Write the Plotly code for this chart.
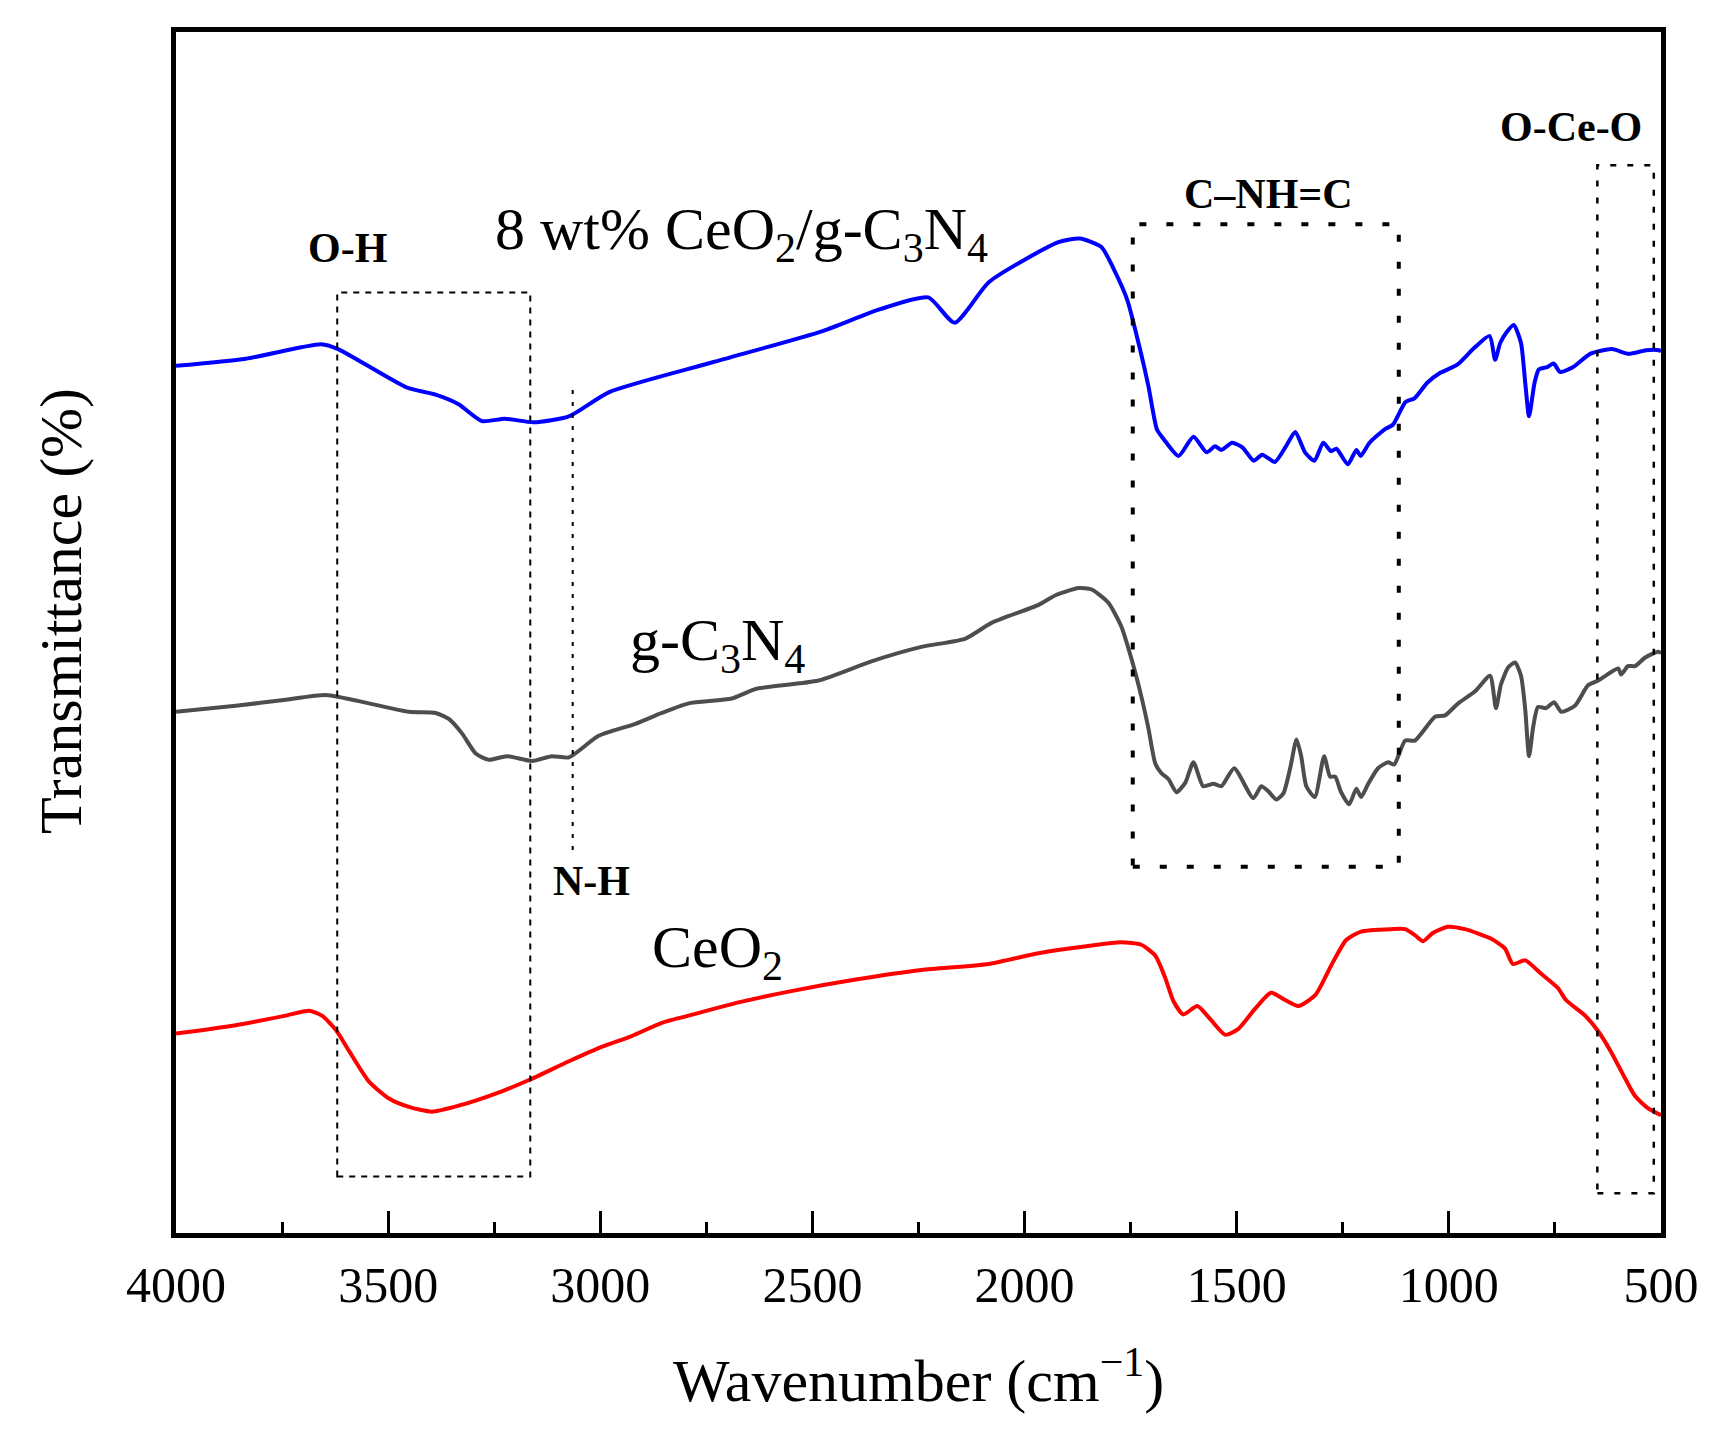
import plotly.graph_objects as go

# ---------------- data ----------------
composite_x = [4000, 3835, 3658, 3618, 3456, 3388, 3334, 3279, 3225, 3157, 3074, 2980, 2735, 2476,
               2342, 2227, 2165, 2083, 1920, 1870, 1819, 1789, 1758, 1728, 1708, 1688, 1672, 1637,
               1602, 1571, 1551, 1536, 1511, 1486, 1460, 1440, 1410, 1384, 1362, 1339, 1317, 1296,
               1278, 1265, 1238, 1218, 1208, 1187, 1152, 1132, 1102, 1081, 1051, 1021, 980, 940,
               904, 891, 879, 864, 847, 830, 820, 811, 798, 788, 768, 753, 738, 707, 667, 616,
               576, 535, 505, 500]
composite_y = [72.2, 72.8, 74.0, 73.6, 70.4, 69.8, 69.0, 67.6, 67.8, 67.5, 68.0, 70.0, 72.5, 75.1,
               76.9, 77.9, 75.8, 79.2, 82.5, 82.8, 82.1, 80.2, 77.7, 73.6, 70.5, 66.9, 66.1, 64.7,
               66.3, 65.0, 65.5, 65.2, 65.8, 65.4, 64.3, 64.8, 64.2, 65.5, 66.7, 65.0, 64.3, 65.8,
               65.1, 65.3, 64.0, 65.2, 64.7, 65.8, 66.9, 67.3, 69.2, 69.5, 70.8, 71.6, 72.3, 73.7,
               74.7, 72.7, 74.1, 75.0, 75.6, 74.1, 70.8, 68.0, 70.8, 71.9, 72.1, 72.4, 71.7, 72.1,
               73.2, 73.6, 73.2, 73.5, 73.5, 73.4]

gcn_x = [4000, 3859, 3741, 3647, 3545, 3451, 3388, 3357, 3326, 3293, 3263, 3220, 3161, 3114, 3074,
         3004, 2917, 2855, 2792, 2690, 2634, 2486, 2361, 2243, 2139, 2078, 1967, 1927, 1873, 1843,
         1803, 1772, 1748, 1725, 1708, 1692, 1678, 1661, 1642, 1621, 1602, 1579, 1555, 1536, 1506,
         1461, 1442, 1426, 1407, 1390, 1374, 1359, 1348, 1336, 1316, 1294, 1280, 1268, 1254, 1235,
         1218, 1207, 1190, 1167, 1143, 1129, 1103, 1080, 1032, 1009, 978, 938, 903, 889, 877, 860,
         844, 830, 820, 811, 801, 790, 771, 752, 735, 703, 672, 648, 601, 594, 578, 561, 538, 507, 500]
gcn_y = [43.4, 43.9, 44.4, 44.8, 44.1, 43.4, 43.3, 42.8, 41.6, 39.9, 39.4, 39.7, 39.3, 39.7, 39.6,
         41.4, 42.4, 43.3, 44.1, 44.5, 45.3, 46.0, 47.6, 48.8, 49.5, 50.8, 52.3, 53.1, 53.7, 53.6,
         52.5, 50.5, 47.8, 44.7, 42.0, 39.1, 38.3, 37.8, 36.7, 37.5, 39.2, 37.2, 37.4, 37.2, 38.7,
         36.2, 37.2, 36.8, 36.1, 36.6, 38.7, 41.1, 39.7, 37.2, 36.3, 39.7, 38.0, 38.0, 36.7, 35.7,
         37.0, 36.3, 37.4, 38.7, 39.2, 39.0, 41.0, 41.0, 43.0, 43.1, 44.1, 45.1, 46.4, 43.7, 45.7,
         47.1, 47.5, 46.4, 43.6, 39.7, 42.2, 43.8, 43.7, 44.2, 43.4, 43.9, 45.6, 46.0, 47.0, 46.5,
         47.2, 47.2, 47.9, 48.4, 48.3]

ceo2_x = [4000, 3859, 3741, 3687, 3656, 3623, 3593, 3545, 3498, 3451, 3397, 3334, 3232, 3164, 3074,
          2997, 2926, 2855, 2792, 2674, 2556, 2398, 2243, 2085, 1967, 1850, 1772, 1725, 1692, 1668,
          1649, 1626, 1593, 1567, 1527, 1496, 1456, 1419, 1386, 1355, 1315, 1277, 1242, 1207, 1136,
          1103, 1080, 1061, 1037, 1002, 962, 900, 868, 849, 820, 783, 743, 724, 679, 648, 618, 585,
          561, 531, 500]
ceo2_y = [16.6, 17.3, 18.1, 18.5, 18.1, 16.9, 15.2, 12.6, 11.2, 10.5, 10.1, 10.6, 11.8, 12.8, 14.3,
          15.5, 16.4, 17.5, 18.1, 19.2, 20.1, 21.1, 21.9, 22.4, 23.3, 23.9, 24.2, 24.0, 23.1, 21.2,
          19.3, 18.2, 18.9, 18.0, 16.5, 17.0, 18.7, 20.0, 19.4, 18.9, 19.8, 22.3, 24.4, 25.1, 25.3,
          25.3, 24.8, 24.3, 25.0, 25.5, 25.3, 24.5, 23.7, 22.4, 22.7, 21.6, 20.4, 19.4, 18.1, 16.8,
          15.1, 12.9, 11.4, 10.4, 9.8]

x_ticks = [4000, 3500, 3000, 2500, 2000, 1500, 1000, 500]
x_tick_labels = ["4000", "3500", "3000", "2500", "2000", "1500", "1000", "500"]

FONT = "Liberation Serif"

fig = go.Figure()
for xs, ys, col in [(composite_x, composite_y, "#0000FF"),
                    (gcn_x, gcn_y, "#4D4D4D"),
                    (ceo2_x, ceo2_y, "#FF0000")]:
    fig.add_trace(go.Scatter(x=xs, y=ys, mode="lines",
                             line=dict(color=col, width=4, shape="spline", smoothing=0.6),
                             showlegend=False, hoverinfo="skip"))

# dotted region boxes
boxes = [
    dict(x0=3620, x1=3165, y0=4.7, y1=78.3, w=2, dash="6px,6px"),
    dict(x0=1745, x1=1118, y0=30.5, y1=84.0, w=4, dash="7px,20px"),
    dict(x0=650, x1=517, y0=3.3, y1=88.9, w=2.5, dash="6px,11px"),
]
for b in boxes:
    fig.add_shape(type="rect", xref="x", yref="y", x0=b["x0"], x1=b["x1"], y0=b["y0"], y1=b["y1"],
                  line=dict(color="black", width=b["w"], dash=b["dash"]), fillcolor="rgba(0,0,0,0)")
fig.add_shape(type="line", xref="x", yref="y", x0=3065, x1=3065, y0=31.9, y1=70.5,
              line=dict(color="black", width=2, dash="4px,8px"))

# sample labels
big = dict(family=FONT, size=60, color="black")
fig.add_annotation(x=3253, y=83.2, xref="x", yref="y", text="8 wt% CeO<sub>2</sub>/g-C<sub>3</sub>N<sub>4</sub>",
                   showarrow=False, xanchor="left", yanchor="middle", font=big)
fig.add_annotation(x=2935, y=49.0, xref="x", yref="y", text="g-C<sub>3</sub>N<sub>4</sub>",
                   showarrow=False, xanchor="left", yanchor="middle", font=big)
fig.add_annotation(x=2884, y=23.4, xref="x", yref="y", text="CeO<sub>2</sub>",
                   showarrow=False, xanchor="left", yanchor="middle", font=big)

bold = dict(family=FONT, size=42, color="black")
for txt, xv, yv in [("O-H", 3595, 82.0), ("N-H", 3020, 29.3),
                    ("C\u2013NH=C", 1426, 86.5), ("O-Ce-O", 712, 92.1)]:
    fig.add_annotation(x=xv, y=yv, xref="x", yref="y", text="<b>%s</b>" % txt,
                       showarrow=False, xanchor="center", yanchor="middle", font=bold)

# axis titles
fig.add_annotation(x=0.5, y=-0.1195, xref="paper", yref="paper",
                   text="Wavenumber (cm<sup>\u22121</sup>)", showarrow=False,
                   xanchor="center", yanchor="middle", font=dict(family=FONT, size=60, color="black"))
fig.add_annotation(x=-0.0774, y=0.518, xref="paper", yref="paper", text="Transmittance (%)",
                   textangle=-90, showarrow=False, xanchor="center", yanchor="middle",
                   font=dict(family=FONT, size=60, color="black"))

fig.update_layout(
    width=1724, height=1438,
    margin=dict(l=168, r=71, t=24, b=213),
    paper_bgcolor="white", plot_bgcolor="white",
    xaxis=dict(range=[4000, 500], tickvals=x_ticks, ticktext=x_tick_labels,
               ticks="inside", ticklen=22, tickwidth=3, tickcolor="black",
               minor=dict(dtick=250, tick0=500, ticks="inside", ticklen=11, tickwidth=3, tickcolor="black"),
               showline=True, linewidth=5, linecolor="black", mirror=True,
               showgrid=False, zeroline=False, ticklabelstandoff=4,
               tickfont=dict(family=FONT, size=50, color="black")),
    yaxis=dict(range=[0, 100], showticklabels=False, ticks="", showline=True, linewidth=5,
               linecolor="black", mirror=True, showgrid=False, zeroline=False),
)

fig.write_html("out.html")
